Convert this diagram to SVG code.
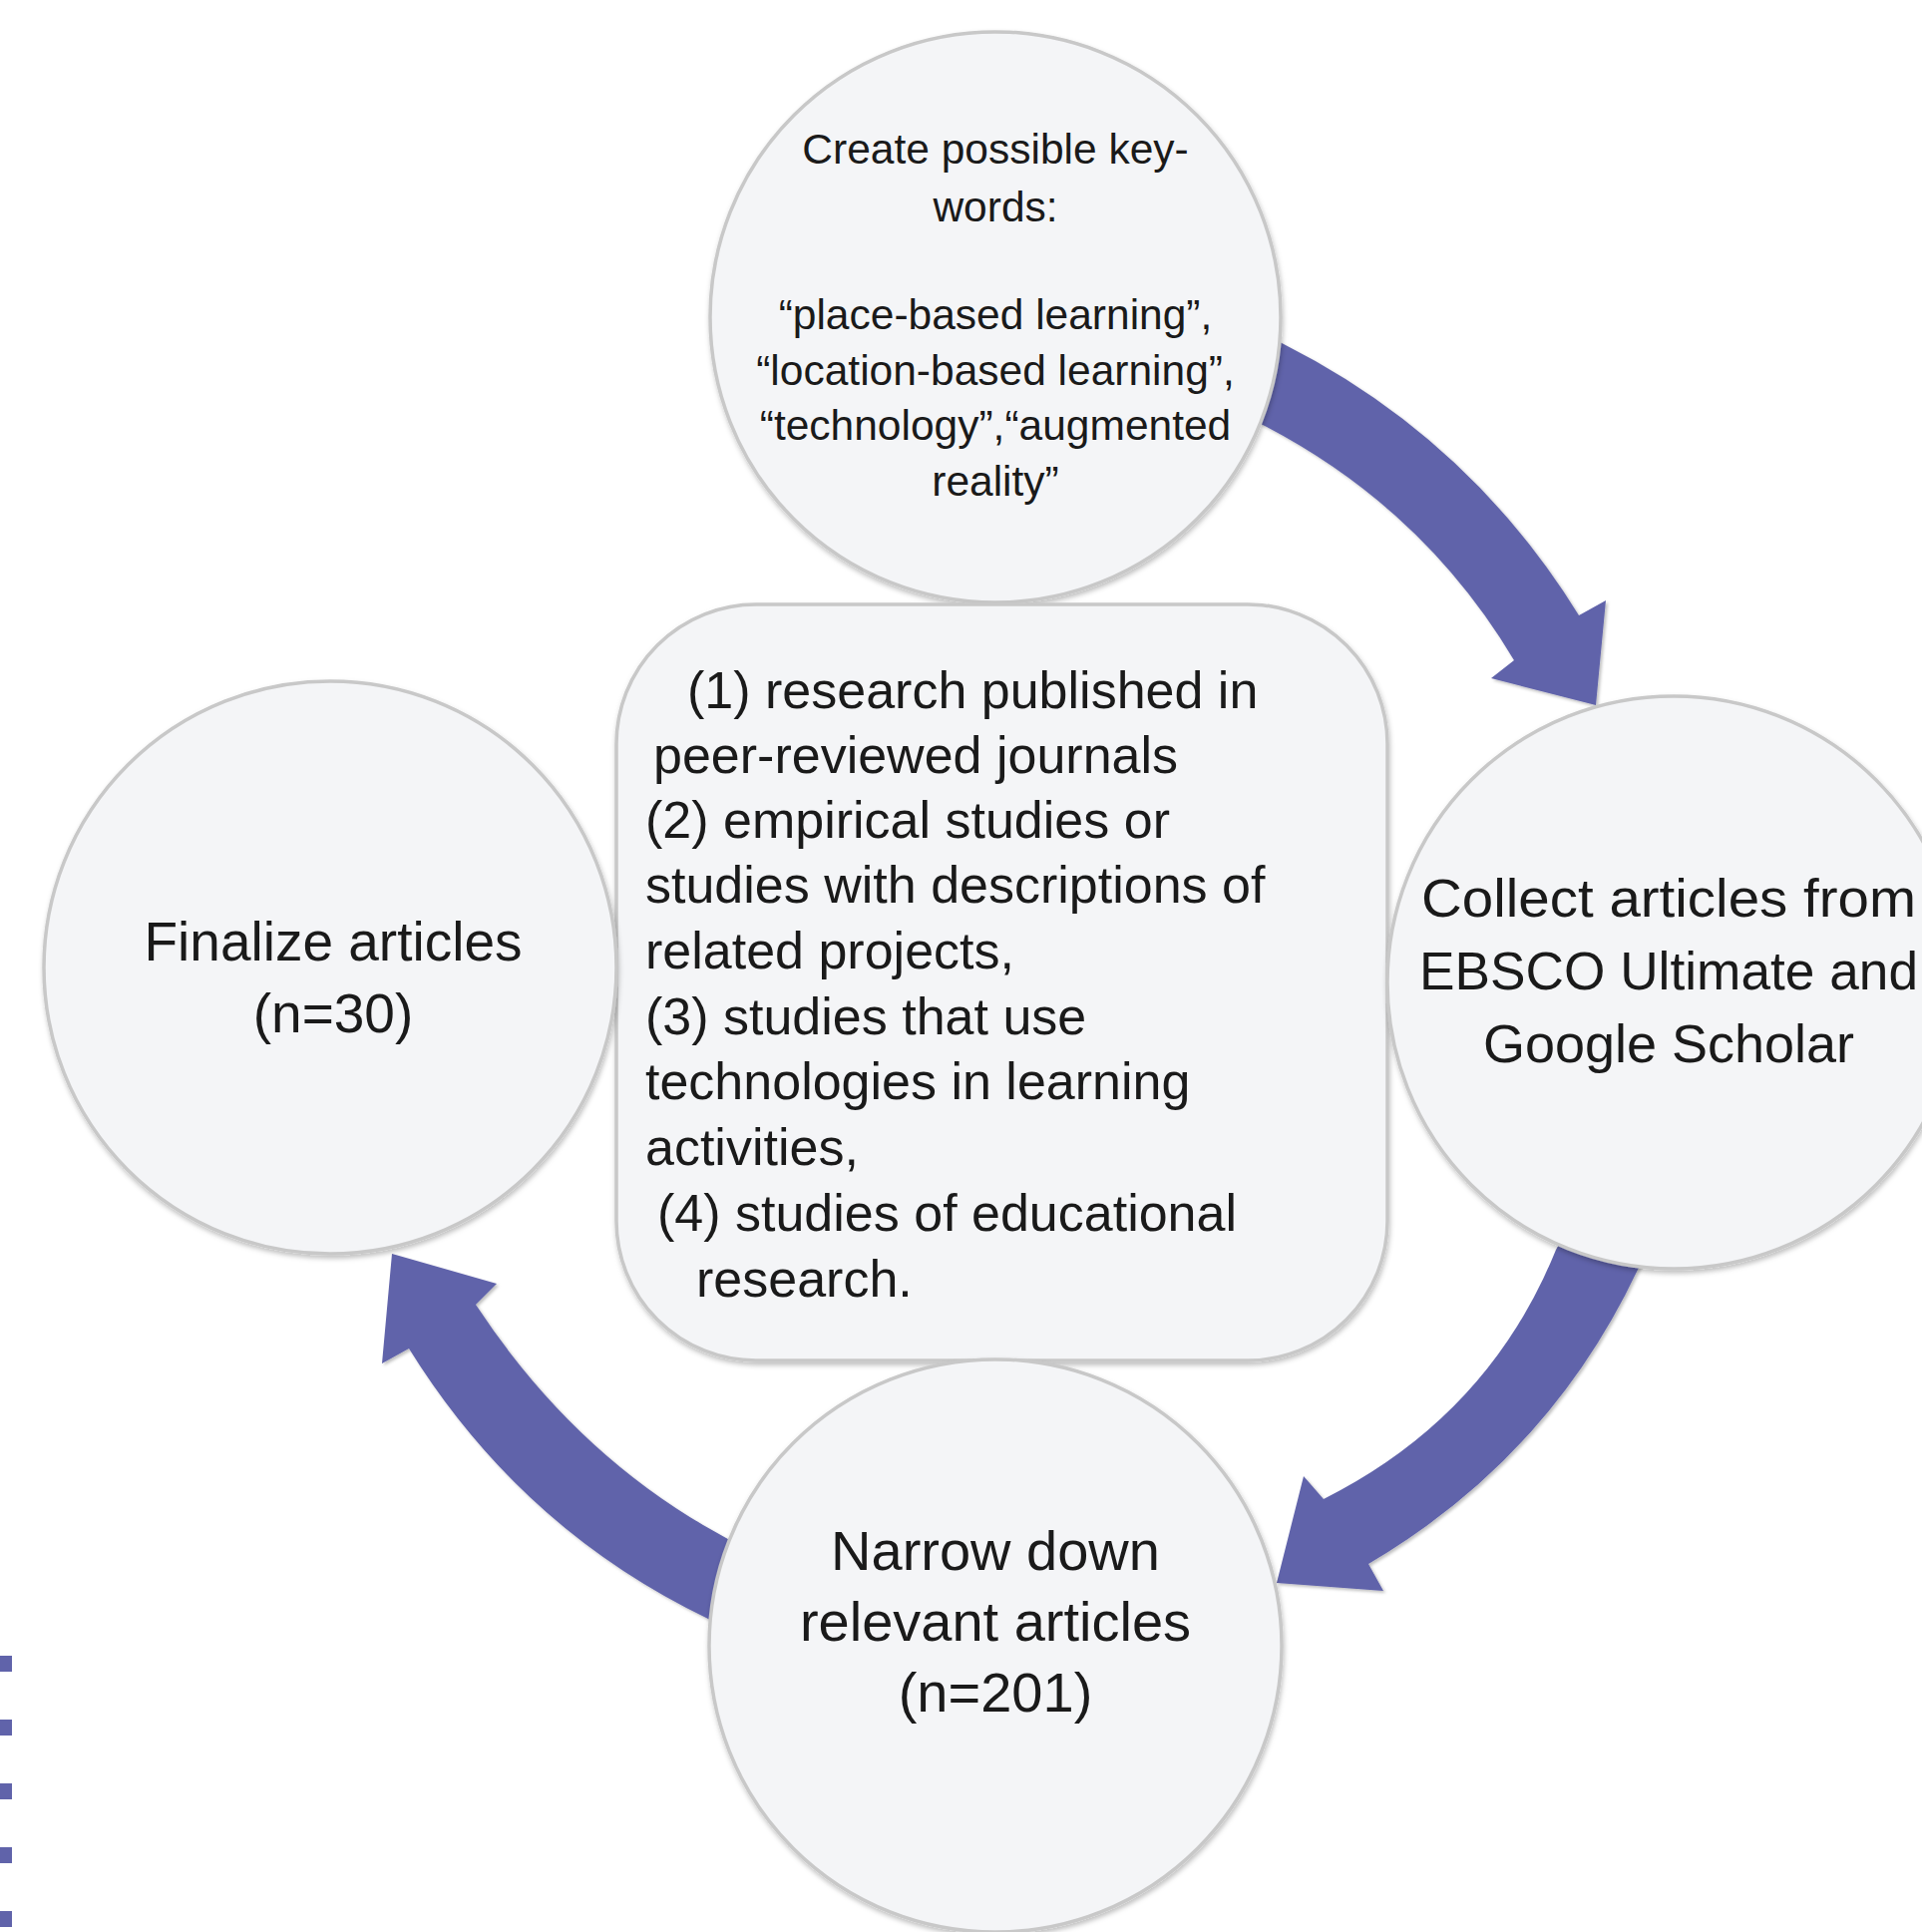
<svg xmlns="http://www.w3.org/2000/svg" width="1927" height="1937" viewBox="0 0 1927 1937">
<defs>
<style>
.node{fill:#f4f5f7;stroke:#c8c8c8;stroke-width:3.5;filter:url(#sh);}
.arrow{fill:#6063aa;filter:url(#ash);}
.t{font-family:"Liberation Sans",Arial,sans-serif;fill:#1a1a1a;}
.c{text-anchor:middle;}
.sq{fill:#6063aa;}
</style>
<filter id="sh" x="-10%" y="-10%" width="120%" height="120%">
<feDropShadow dx="1" dy="3" stdDeviation="2.5" flood-color="#000" flood-opacity="0.25"/>
</filter>
<filter id="ash" x="-10%" y="-10%" width="120%" height="120%">
<feDropShadow dx="2" dy="2" stdDeviation="1.5" flood-color="#000" flood-opacity="0.25"/>
</filter>
</defs>
<rect width="1927" height="1937" fill="#ffffff"/>
<g id="connectors">
<path class="arrow" d="M1279,341 L1287,345 Q1473,439 1583,617 L1610,602 L1600,707 L1495,680 L1518,662 Q1428,511 1270,428 L1262,424 Z"/>
<path class="arrow" d="M1648,1262 L1642,1273 Q1553,1461.5 1372,1568 L1387,1595 L1280,1587 L1307,1480 L1327,1503 Q1492.5,1420 1560,1253 L1566,1242 Z"/>
<path class="arrow" d="M719,1628 L710,1623 Q522,1532.5 410,1352 L383,1367 L393,1257 L498,1287 L477,1308 Q577.5,1461 728,1542 L737,1547 Z"/>
</g>
<g id="node-keywords">
<circle class="node" cx="998" cy="318" r="286"/>
<text class="t c" font-size="42.5"><tspan x="998" y="164">Create possible key-</tspan><tspan x="998" y="222">words:</tspan><tspan x="998" y="330">“place-based learning”,</tspan><tspan x="998" y="386">“location-based learning”,</tspan><tspan x="998" y="441">“technology”,“augmented</tspan><tspan x="998" y="497">reality”</tspan></text>
</g>
<g id="node-criteria">
<rect class="node" x="618" y="606" width="773" height="758" rx="140" ry="140"/>
<text class="t" font-size="52"><tspan x="689" y="710">(1) research published in</tspan><tspan x="655" y="775">peer-reviewed journals</tspan><tspan x="647" y="840">(2) empirical studies or</tspan><tspan x="647" y="905">studies with descriptions of</tspan><tspan x="647" y="971">related projects,</tspan><tspan x="647" y="1037">(3) studies that use</tspan><tspan x="647" y="1102">technologies in learning</tspan><tspan x="647" y="1168">activities,</tspan><tspan x="659" y="1234">(4) studies of educational</tspan><tspan x="698" y="1300">research.</tspan></text>
</g>
<g id="node-collect">
<circle class="node" cx="1678" cy="985" r="287"/>
<text class="t c" font-size="54"><tspan x="1673" y="919" textLength="496" lengthAdjust="spacingAndGlyphs">Collect articles from</tspan><tspan x="1673" y="992" textLength="500" lengthAdjust="spacingAndGlyphs">EBSCO Ultimate and</tspan><tspan x="1673" y="1065">Google Scholar</tspan></text>
</g>
<g id="node-narrow">
<circle class="node" cx="998" cy="1650" r="287"/>
<text class="t c" font-size="56"><tspan x="998" y="1574">Narrow down</tspan><tspan x="998" y="1645">relevant articles</tspan><tspan x="998" y="1716">(n=201)</tspan></text>
</g>
<g id="node-finalize">
<circle class="node" cx="331" cy="970" r="287"/>
<text class="t c" font-size="55"><tspan x="334" y="963">Finalize articles</tspan><tspan x="334" y="1035">(n=30)</tspan></text>
</g>
<g id="marks">
<rect class="sq" x="0" y="1660" width="12" height="16"/>
<rect class="sq" x="0" y="1724" width="12" height="16"/>
<rect class="sq" x="0" y="1788" width="12" height="16"/>
<rect class="sq" x="0" y="1852" width="12" height="16"/>
<rect class="sq" x="0" y="1916" width="12" height="16"/>
</g>
</svg>
